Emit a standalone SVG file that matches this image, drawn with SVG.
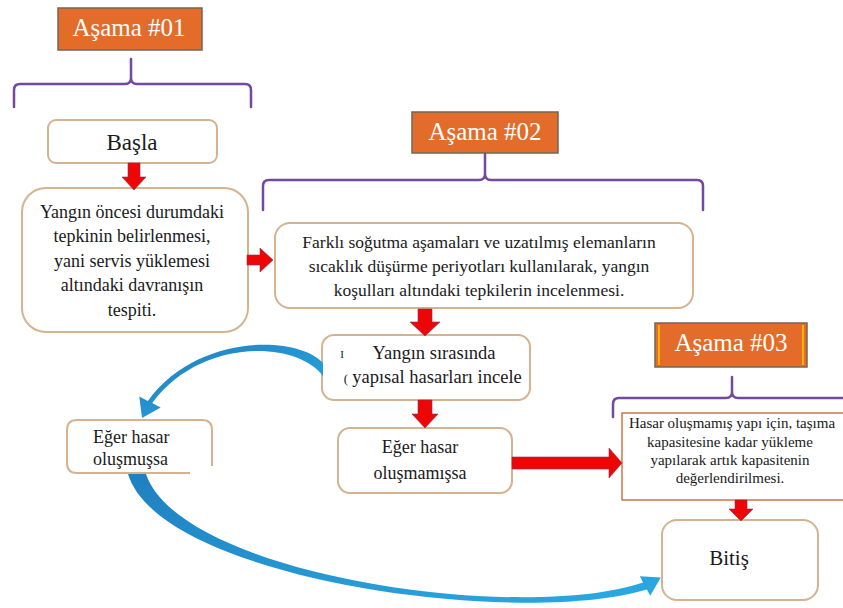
<svg xmlns="http://www.w3.org/2000/svg" width="843" height="608" viewBox="0 0 843 608">
<defs>
<style>
.stage{fill:#E46C2A;stroke:#746652;stroke-width:1.5}
.stxt{font-size:25px;fill:#ffffff;text-anchor:middle}
.brace{fill:none;stroke:#7447A0;stroke-width:2.5;stroke-linecap:round;stroke-linejoin:round}
.box{fill:#ffffff;stroke:#D6B28E;stroke-width:2}
.sq{fill:#ffffff;stroke:#C8622A;stroke-width:1.3}
.t{fill:#1a1a1a;text-anchor:middle}
.red{fill:#EE0606;stroke:#8a3050;stroke-width:0.6}
.blue{fill:url(#bg);stroke:none}
</style>
<linearGradient id="bg" x1="0" y1="0" x2="1" y2="1">
<stop offset="0" stop-color="#1F7FBF"/>
<stop offset="1" stop-color="#2AAAE2"/>
</linearGradient>
</defs>
<rect width="843" height="608" fill="#ffffff"/>
<g font-family="Liberation Serif, Times New Roman, DejaVu Serif, serif">

<g id="stage1">
<rect class="stage" x="58" y="8" width="144" height="42"/>
<text class="stxt" x="129" y="36" font-family="Liberation Serif, serif">Aşama #01</text>
<path class="brace" d="M14,107 L14,90 Q14,84 20,84 L125,84 Q131,84 131,78 L131,59 M131,78 Q131,84 137,84 L245,84 Q251,84 251,90 L251,107"/>
</g>

<g id="stage2">
<rect class="stage" x="412" y="112" width="146" height="41"/>
<text class="stxt" x="485" y="140" font-family="Liberation Serif, serif">Aşama #02</text>
<path class="brace" d="M263,210 L263,186 Q263,180 269,180 L479,180 Q485,180 485,174 L485,154 M485,174 Q485,180 491,180 L697,180 Q703,180 703,186 L703,210"/>
</g>

<g id="stage3">
<rect class="stage" x="655" y="323" width="152" height="44"/>
<line x1="659" y1="325" x2="659" y2="365" stroke="#F2B400" stroke-width="2"/>
<line x1="803" y1="325" x2="803" y2="365" stroke="#F2B400" stroke-width="2"/>
<text class="stxt" x="731" y="351" font-family="Liberation Serif, serif">Aşama #03</text>
<path class="brace" d="M613,417 L613,404 Q613,398 619,398 L726,398 Q732,398 732,392 L732,377 M732,392 Q732,398 738,398 L850,398"/>
</g>

<g id="start">
<rect class="box" x="48" y="120" width="169" height="43" rx="8"/>
<text class="t" x="132" y="150" font-size="23" font-family="Liberation Serif, serif">Başla</text>
</g>

<g id="prefire">
<rect class="box" x="22" y="188" width="226" height="144" rx="24"/>
<text class="t" font-size="18" font-family="Liberation Serif, serif"><tspan x="132" y="218">Yangın öncesi durumdaki</tspan><tspan x="132" y="242">tepkinin belirlenmesi,</tspan><tspan x="132" y="267">yani servis yüklemesi</tspan><tspan x="132" y="291">altındaki davranışın</tspan><tspan x="132" y="316">tespiti.</tspan></text>
</g>

<g id="fireresponse">
<rect class="box" x="275" y="223" width="418" height="85" rx="15"/>
<text class="t" font-size="17.5" font-family="Liberation Serif, serif"><tspan x="479" y="248">Farklı soğutma aşamaları ve uzatılmış elemanların</tspan><tspan x="479" y="272">sıcaklık düşürme periyotları kullanılarak, yangın</tspan><tspan x="479" y="296">koşulları altındaki tepkilerin incelenmesi.</tspan></text>
</g>

<g id="inspect">
<rect class="box" x="322" y="335" width="208" height="65" rx="12"/>
<text class="t" x="342" y="358" font-size="11" font-family="Liberation Serif, serif">I</text>
<text class="t" x="346" y="383" font-size="13" font-family="Liberation Serif, serif">(</text>
<text class="t" font-size="18.5" font-family="Liberation Serif, serif"><tspan x="434" y="359">Yangın sırasında</tspan><tspan x="437" y="383">yapısal hasarları incele</tspan></text>
</g>

<g id="nodamage">
<rect class="box" x="338" y="428" width="174" height="65" rx="12"/>
<text class="t" font-size="18" font-family="Liberation Serif, serif"><tspan x="420" y="453">Eğer hasar</tspan><tspan x="420" y="479">oluşmamışsa</tspan></text>
</g>

<g id="damage">
<path class="box" d="M190,473 L77,473 Q67,473 67,463 L67,430 Q67,420 77,420 L202,420 Q212,420 212,430 L212,466"/>
<text font-size="18" fill="#1a1a1a" text-anchor="start" font-family="Liberation Serif, serif"><tspan x="93" y="443">Eğer hasar</tspan><tspan x="93" y="465">oluşmuşsa</tspan></text>
</g>

<g id="capacity">
<rect class="sq" x="622" y="413" width="225" height="87"/>
<text class="t" font-size="15" font-family="Liberation Serif, serif"><tspan x="732" y="428">Hasar oluşmamış yapı için, taşıma</tspan><tspan x="730" y="447">kapasitesine kadar yükleme</tspan><tspan x="730" y="465">yapılarak artık kapasitenin</tspan><tspan x="730" y="483">değerlendirilmesi.</tspan></text>
</g>

<g id="end">
<rect class="box" x="662" y="520" width="156" height="80" rx="15"/>
<text class="t" x="729" y="565" font-size="21" font-family="Liberation Serif, serif">Bitiş</text>
</g>

<g id="connectors">
<path class="red" d="M128,163 H140 V177 H146 L134,190 L122,177 H128 Z"/>
<path class="red" d="M247,255 H260 V248 L273,260 L260,272 V265 H247 Z"/>
<path class="red" d="M418,309 H432 V322 H440 L425,336 L410,322 H418 Z"/>
<path class="red" d="M418,400 H432 V414 H438 L425,428 L412,414 H418 Z"/>
<path class="red" d="M512,457 H609 V448 L622,463 L609,478 V469 H512 Z"/>
<path class="red" d="M735,500 H747 V509 H753 L741,521 L729,509 H735 Z"/>
<path class="blue" d="M323,363 C298,335 197,333 147.8,400.9 L139.3,396.6 L142,418 L160.7,407.4 L152.2,403.1 C200,338 296,340 323,376 Z"/>
<path class="blue" d="M128,474 C160,580 520,628 646.9,589.5 L650.2,595.7 L660.8,577.5 L639.8,576.3 L643.1,582.5 C520,624 180,575 146,474 Z"/>
</g>
</g>
</svg>
